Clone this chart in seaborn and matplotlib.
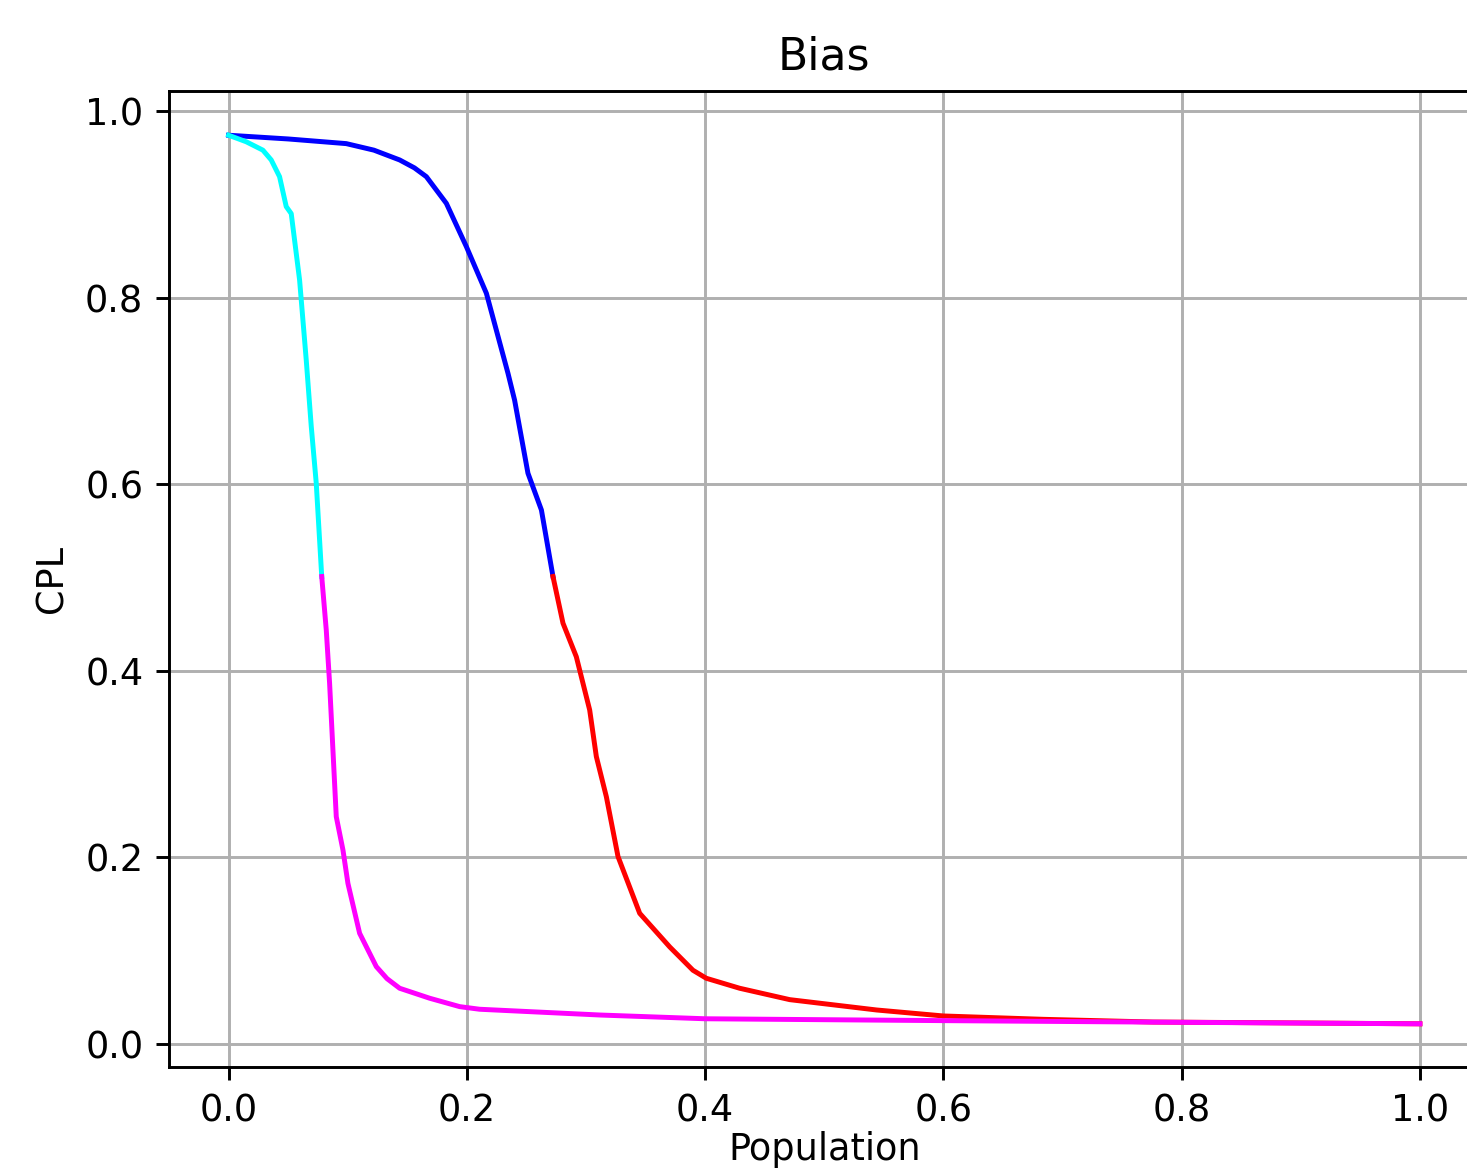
import matplotlib
matplotlib.use("Agg")
import matplotlib.pyplot as plt
import seaborn as sns
import pandas as pd

# ==============================
# Curve data
# ==============================
# curve 1: blue above CPL 0.5, red below
c1_hi_x = [0.0, 0.05, 0.0988, 0.122, 0.1436, 0.156, 0.166, 0.1828, 0.1996, 0.2164, 0.2345, 0.2401,
           0.2513, 0.2626, 0.2723]
c1_hi_y = [0.974, 0.970, 0.965, 0.958, 0.9475, 0.939, 0.9296, 0.901, 0.8546, 0.8046, 0.719, 0.690,
           0.6117, 0.5723, 0.501]
c1_lo_x = [0.2723, 0.2807, 0.2919, 0.3031, 0.3087, 0.3171, 0.3269, 0.3451, 0.3703, 0.3898, 0.401,
           0.429, 0.471, 0.544, 0.6, 0.684, 0.776, 0.9, 1.0]
c1_lo_y = [0.501, 0.451, 0.415, 0.358, 0.308, 0.265, 0.2008, 0.140, 0.104, 0.079, 0.0704,
           0.0597, 0.0475, 0.0364, 0.030, 0.0264, 0.0235, 0.0225, 0.0216]

# curve 2: cyan above CPL 0.5, magenta below
c2_hi_x = [0.0, 0.0148, 0.0288, 0.0358, 0.0428, 0.0484, 0.0526, 0.0596, 0.0652, 0.0694, 0.0736, 0.0782]
c2_hi_y = [0.974, 0.967, 0.958, 0.9475, 0.9296, 0.8975, 0.890, 0.819, 0.733, 0.662, 0.601, 0.501]
c2_lo_x = [0.0782, 0.082, 0.0848, 0.0876, 0.0904, 0.096, 0.1002, 0.110, 0.124, 0.133, 0.1436, 0.1688,
           0.194, 0.2107, 0.312, 0.4, 0.6, 0.8, 1.0]
c2_lo_y = [0.501, 0.4437, 0.3866, 0.315, 0.2436, 0.208, 0.172, 0.1186, 0.0829, 0.070, 0.0597, 0.049,
           0.040, 0.0372, 0.031, 0.027, 0.025, 0.0232, 0.0216]

segments = [
    (c1_hi_x, c1_hi_y, "blue"),
    (c1_lo_x, c1_lo_y, "red"),
    (c2_hi_x, c2_hi_y, "cyan"),
    (c2_lo_x, c2_lo_y, "magenta"),
]

# ==============================
# Figure
# ==============================
dpi = 264
fig = plt.figure(figsize=(1467 / dpi, 1170 / dpi), dpi=dpi)
ax = fig.add_axes([169 / 1467, 103 / 1170, 1310.5 / 1467, 976 / 1170])

for xs, ys, col in segments:
    df = pd.DataFrame({"Population": xs, "CPL": ys})
    sns.lineplot(data=df, x="Population", y="CPL", color=col, sort=False,
                 estimator=None, linewidth=1.35, ax=ax)

ax.set_xlim(-0.05, 1.05)
ax.set_ylim(-0.0247, 1.0214)
ax.set_xticks([0.0, 0.2, 0.4, 0.6, 0.8, 1.0])
ax.set_yticks([0.0, 0.2, 0.4, 0.6, 0.8, 1.0])
ax.grid(True)
ax.set_title("Bias")
ax.set_xlabel("Population", labelpad=0.5)
ax.set_ylabel("CPL")

fig.savefig("out.png", dpi=dpi)
